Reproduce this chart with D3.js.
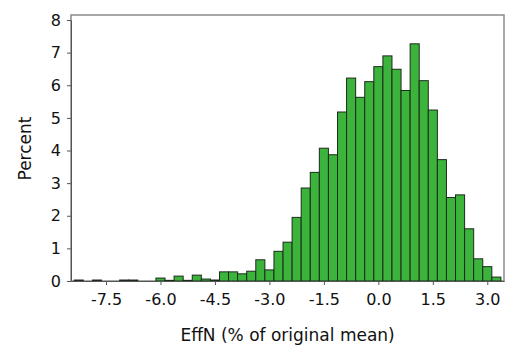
<!DOCTYPE html>
<html>
<head>
<meta charset="utf-8">
<script src="https://cdn.jsdelivr.net/npm/d3@7"></script>
<style>
  body { margin: 0; background: #fff; }
  svg { display: block; font-family: "DejaVu Sans", Verdana, sans-serif; }
</style>
</head>
<body>
<svg width="505" height="346"></svg>
<script>
// bin centres (EffN, % of original mean), width 0.25
const binCenters = d3.range(47).map(i => -8.25 + i * 0.25);
// percent in each bin
const percents = [
  0.03, 0, 0.03, 0, 0, 0.03, 0.03, 0, 0, 0.09,
  0.02, 0.15, 0.02, 0.18, 0.06, 0.03, 0.28, 0.28, 0.22, 0.30,
  0.65, 0.34, 0.91, 1.19, 1.95, 2.85, 3.33, 4.07, 3.87, 5.18,
  6.22, 5.63, 6.11, 6.57, 6.90, 6.49, 5.84, 7.27, 6.14, 5.24,
  3.72, 2.56, 2.64, 1.60, 0.68, 0.44, 0.12
];
const xTicks = [-7.5, -6.0, -4.5, -3.0, -1.5, 0.0, 1.5, 3.0];
const yTicks = [0, 1, 2, 3, 4, 5, 6, 7, 8];
const binWidth = 0.25;

const margin = {left: 71, top: 15, right: 1, bottom: 65};
const width = 505 - margin.left - margin.right;
const height = 346 - margin.top - margin.bottom;

const svg = d3.select("svg");
const g = svg.append("g").attr("transform", `translate(${margin.left},${margin.top})`);

const x = d3.scaleLinear().domain([-8.464, 3.46]).range([0, width]);
const y = d3.scaleLinear().domain([0, 8]).range([height, 5]);

// frame
g.append("rect")
  .attr("x", 0).attr("y", 0)
  .attr("width", width).attr("height", height)
  .attr("fill", "none")
  .attr("stroke", "#8a8a8a")
  .attr("stroke-width", 1.5);

// bars
g.selectAll("rect.bar")
  .data(binCenters.map((c, i) => ({c: c, v: percents[i]})))
  .enter().append("rect")
  .attr("class", "bar")
  .attr("x", d => x(d.c - binWidth / 2))
  .attr("width", d => x(d.c + binWidth / 2) - x(d.c - binWidth / 2))
  .attr("y", d => y(d.v))
  .attr("height", d => y(0) - y(d.v))
  .attr("fill", "#3cb43c")
  .attr("stroke", "#1c2a1c")
  .attr("stroke-width", 1);

// axes
const fmtX = d => d3.format(".1f")(d).replace("\u2212", "-");
const xAxis = g.append("g")
  .attr("transform", `translate(0,${height})`)
  .call(d3.axisBottom(x).tickValues(xTicks).tickFormat(fmtX).tickSize(4).tickSizeOuter(0));
const yAxis = g.append("g")
  .call(d3.axisLeft(y).tickValues(yTicks).tickFormat(d3.format("d")).tickSize(4).tickSizeOuter(0));

[xAxis, yAxis].forEach(a => {
  a.select(".domain").attr("stroke", "#555");
  a.selectAll(".tick line").attr("stroke", "#555");
  a.selectAll(".tick text")
    .attr("fill", "#111")
    .style("font-family", "'DejaVu Sans', Verdana, sans-serif")
    .style("font-size", "16px");
});
xAxis.selectAll(".tick text").attr("dy", "1.05em");
yAxis.selectAll(".tick text").attr("x", -10);

// titles
svg.append("text")
  .attr("x", margin.left + x(-2.5))
  .attr("y", 341)
  .attr("text-anchor", "middle")
  .attr("fill", "#111")
  .style("font-size", "17px")
  .text("EffN (% of original mean)");

svg.append("text")
  .attr("transform", `translate(31,${margin.top + y(4) - 2}) rotate(-90)`)
  .attr("text-anchor", "middle")
  .attr("fill", "#111")
  .style("font-size", "17px")
  .text("Percent");
</script>
</body>
</html>
